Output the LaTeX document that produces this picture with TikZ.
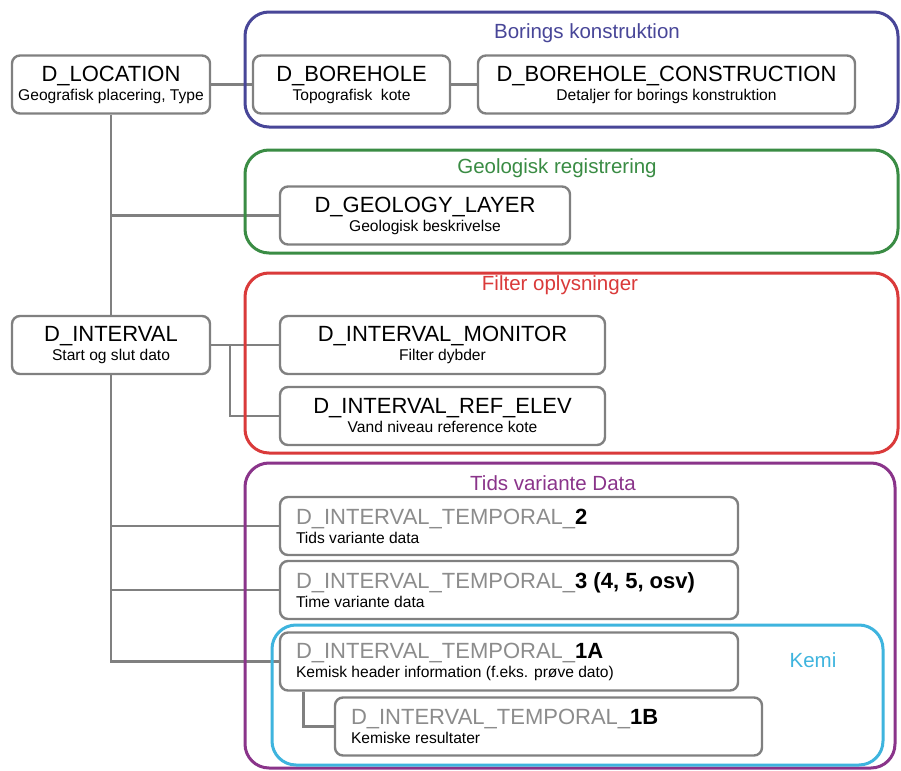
\documentclass[tikz,border=0pt]{standalone}
\usepackage{fontspec}
\setmainfont{Liberation Sans}
\usetikzlibrary{positioning}

\definecolor{boxgray}{RGB}{128,128,128}
\definecolor{tgray}{RGB}{140,140,140}
\definecolor{grpblue}{RGB}{72,70,152}
\definecolor{grpgreen}{RGB}{58,140,68}
\definecolor{grpred}{RGB}{218,58,58}
\definecolor{grppurple}{RGB}{138,52,138}
\definecolor{grpcyan}{RGB}{62,180,222}

\newcommand{\subtxt}[1]{{\fontsize{7.8}{9.5}\selectfont #1}}
\newcommand{\tmpname}[1]{{\color{tgray}D\_INTERVAL\_TEMPORAL\_}\textbf{#1}}

\begin{document}
\begin{tikzpicture}[x=0.5pt,y=-0.5pt,
    tbl/.style={draw=boxgray, line width=1.2pt, rounded corners=4pt, fill=white,
      minimum height=29pt, align=center, inner sep=2pt,
      font=\fontsize{11}{9.5}\selectfont},
    tmp/.style={tbl, align=flush left, inner xsep=8pt},
    conn/.style={draw=boxgray, line width=1.4pt},
    grp/.style={line width=1.5pt, rounded corners=12pt},
    grptitle/.style={font=\fontsize{10.25}{12}\selectfont}]
        \fill[white] (0,0) rectangle (901,771);
        % Tables
        \node[tbl, minimum width=99pt] (loc) at (111,84.5) {D\_LOCATION\\\subtxt{Geografisk placering, Type}};
        \node[tbl, minimum width=98.5pt] (bore) at (351.5,84.5) {D\_BOREHOLE\\\subtxt{Topografisk~ kote}};
        \node[tbl, minimum width=188.5pt] (borecon) at (666.5,84.5) {D\_BOREHOLE\_CONSTRUCTION\\\subtxt{Detaljer for borings konstruktion}};
        \node[tbl, minimum width=145pt] (geo) at (425,215.5) {D\_GEOLOGY\_LAYER\\\subtxt{Geologisk beskrivelse}};
        \node[tbl, minimum width=99pt] (intv) at (111,345) {D\_INTERVAL\\\subtxt{Start og slut dato}};
        \node[tbl, minimum width=162.5pt] (mon) at (442.5,345) {D\_INTERVAL\_MONITOR\\\subtxt{Filter dybder}};
        \node[tbl, minimum width=162.5pt] (ref) at (442.5,416) {D\_INTERVAL\_REF\_ELEV\\\subtxt{Vand niveau reference kote}};
        \node[tmp, text width=213pt] (t2) at (509,526) {\tmpname{2}\\\subtxt{Tids variante data}};
        \node[tmp, text width=213pt] (t3) at (509,590) {\tmpname{3 (4, 5, osv)}\\\subtxt{Time variante data}};
        \node[tmp, text width=213pt] (t1a) at (509,661.5) {\tmpname{1A}\\\subtxt{Kemisk header information (f.eks. prøve dato)}};
        \node[tmp, text width=197.5pt] (t1b) at (548.5,726.5) {\tmpname{1B}\\\subtxt{Kemiske resultater}};
        % Connectors
        \draw[conn] (loc) -- (bore);
        \draw[conn] (bore) -- (borecon);
        \draw[conn] (loc.south) -- (intv.north);
        \draw[conn] (loc.south |- geo.west) -- (geo.west);
        \draw[conn] (intv.east) -- (mon.west);
        \coordinate (split) at (230,345);
        \draw[conn] (split) |- (ref.west);
        \draw[conn] (intv.south) |- (t1a.west);
        \draw[conn] (intv.south |- t2.west) -- (t2.west);
        \draw[conn] (intv.south |- t3.west) -- (t3.west);
        \draw[conn] (t1a.south west) ++(25,0) |- (t1b.west);
        % Groups
        \draw[grp, grpblue] (245,12) rectangle (898,127);
        \draw[grp, grpgreen] (245,150) rectangle (898,253);
        \draw[grp, grpred] (245,273) rectangle (898,453);
        \draw[grp, grppurple] (245,463) rectangle (895,768);
        \draw[grp, grpcyan] (272,625) rectangle (883,765);
        \node[grptitle, text=grpblue] (tblue) at (587,33) {Borings konstruktion};
        \node[grptitle, text=grpgreen] (tgreen) at (557,168) {Geologisk registrering};
        \node[grptitle, text=grpred] (tred) at (560,285) {Filter oplysninger};
        \node[grptitle, text=grppurple] (tpurple) at (553,483) {Tids variante Data};
        \node[grptitle, text=grpcyan] (tcyan) at (813,660) {Kemi};
    \end{tikzpicture}
\end{document}
